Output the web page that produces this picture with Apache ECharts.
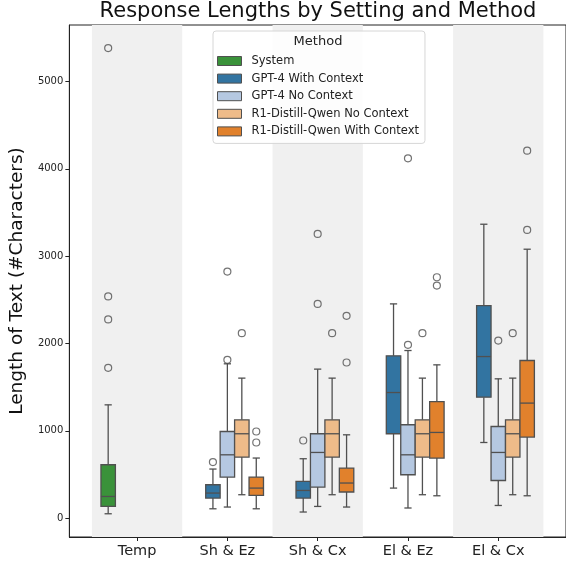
<!DOCTYPE html>
<html>
<head>
<meta charset="utf-8">
<script src="https://cdn.jsdelivr.net/npm/echarts@6/dist/echarts.min.js"></script>
<style>
  html, body { margin: 0; padding: 0; background: #fff; }
  #chart { width: 566px; height: 565px; }
</style>
</head>
<body>
<div id="chart"></div>
<script>
// settings on the x axis
const categories = ['Temp', 'Sh & Ez', 'Sh & Cx', 'El & Ez', 'El & Cx'];
const methods = ['System', 'GPT-4 With Context', 'GPT-4 No Context', 'R1-Distill-Qwen No Context', 'R1-Distill-Qwen With Context'];
const yTicks = [0, 1000, 2000, 3000, 4000, 5000];

// box stats per setting: [lower whisker, q1, median, q3, upper whisker]
const systemBoxes = [[50, 134, 248, 611, 1297], null, null, null, null];
const gpt4CtxBoxes = [null, [107, 230, 287, 382, 562], [70, 230, 317, 420, 680], [344, 966, 1438, 1858, 2453], [866, 1385, 1850, 2434, 3365]];
const gpt4NoCtxBoxes = [null, [127, 470, 725, 992, 1767], [134, 356, 752, 966, 1706], [116, 497, 725, 1069, 1919], [145, 431, 752, 1049, 1595]];
const r1NoCtxBoxes = [null, [268, 699, 966, 1126, 1603], [268, 699, 966, 1126, 1603], [268, 699, 966, 1126, 1603], [268, 699, 966, 1126, 1603]];
const r1CtxBoxes = [null, [107, 260, 344, 470, 688], [127, 299, 402, 573, 954], [256, 688, 981, 1335, 1755], [256, 928, 1317, 1805, 3079]];

// outliers: [setting index, value]
const systemOutliers = [[0, 1721], [0, 2275], [0, 2538], [0, 5382]];
const gpt4CtxOutliers = [[1, 642], [2, 889]];
const gpt4NoCtxOutliers = [[1, 1812], [1, 2823], [2, 2453], [2, 3254], [3, 1984], [3, 4120], [4, 2033]];
const r1NoCtxOutliers = [[1, 2118], [2, 2118], [3, 2118], [4, 2118]];
const r1CtxOutliers = [[1, 866], [1, 992], [2, 1782], [2, 2316], [3, 2663], [3, 2758], [4, 3300], [4, 4207]];

const boxesByMethod = [systemBoxes, gpt4CtxBoxes, gpt4NoCtxBoxes, r1NoCtxBoxes, r1CtxBoxes];
const outliersByMethod = [systemOutliers, gpt4CtxOutliers, gpt4NoCtxOutliers, r1NoCtxOutliers, r1CtxOutliers];
const colors = ['#3a923a', '#3274a1', '#b5c8e1', '#eebb89', '#e1812c'];
const lineColor = '#505050';
const font = 'DejaVu Sans';

// seaborn style dodge: 0.8 of each category split between the hue levels
const slotWidth = 0.8 / methods.length;
const slotOffset = k => (k - (methods.length - 1) / 2) * slotWidth;

function renderBox(params, api) {
  const x = api.value(0);
  const low = api.coord([x, api.value(1)]);
  const q1 = api.coord([x, api.value(2)]);
  const med = api.coord([x, api.value(3)]);
  const q3 = api.coord([x, api.value(4)]);
  const high = api.coord([x, api.value(5)]);
  const w = api.size([slotWidth, 0])[0];
  const cx = low[0];
  const half = w / 2, cap = w / 4;
  const line = { stroke: lineColor, lineWidth: 1.3 };
  return {
    type: 'group',
    children: [
      { type: 'line', shape: { x1: cx, y1: q3[1], x2: cx, y2: high[1] }, style: line },
      { type: 'line', shape: { x1: cx, y1: low[1], x2: cx, y2: q1[1] }, style: line },
      { type: 'line', shape: { x1: cx - cap, y1: high[1], x2: cx + cap, y2: high[1] }, style: line },
      { type: 'line', shape: { x1: cx - cap, y1: low[1], x2: cx + cap, y2: low[1] }, style: line },
      { type: 'rect', shape: { x: cx - half, y: q3[1], width: w, height: q1[1] - q3[1] },
        style: { fill: api.visual('color'), stroke: lineColor, lineWidth: 1.3 } },
      { type: 'line', shape: { x1: cx - half, y1: med[1], x2: cx + half, y2: med[1] }, style: line }
    ]
  };
}

const series = [];
// grey bands behind every other setting
series.push({
  type: 'line',
  name: 'bands',
  data: [],
  silent: true,
  markArea: {
    silent: true,
    itemStyle: { color: '#f0f0f0' },
    data: categories.map((c, i) => i).filter(i => i % 2 === 0)
      .map(i => [{ xAxis: i - 0.5 }, { xAxis: i + 0.5 }])
  }
});

methods.forEach((m, k) => {
  series.push({
    type: 'custom',
    name: m,
    renderItem: renderBox,
    itemStyle: { color: colors[k], borderColor: lineColor, borderWidth: 1 },
    encode: { x: 0, y: [1, 2, 3, 4, 5] },
    data: boxesByMethod[k]
      .map((b, i) => b ? [i + slotOffset(k)].concat(b) : null)
      .filter(d => d)
  });
  series.push({
    type: 'scatter',
    name: m + ' outliers',
    symbol: 'circle',
    symbolSize: 7,
    itemStyle: { color: 'rgba(255,255,255,0)', borderColor: lineColor, borderWidth: 1.2 },
    data: outliersByMethod[k].map(o => [o[0] + slotOffset(k), o[1]])
  });
});

const chart = echarts.init(document.getElementById('chart'));
chart.setOption({
  animation: false,
  textStyle: { fontFamily: font },
  grid: {
    left: 68, top: 25, width: 499, height: 512,
    show: true, borderColor: '#222', borderWidth: 1, backgroundColor: 'transparent'
  },
  xAxis: {
    type: 'value',
    min: -0.75,
    max: 4.75,
    splitLine: { show: false },
    axisLine: { show: true, onZero: false, lineStyle: { color: '#222' } },
    axisTick: { show: true, length: 4, lineStyle: { color: '#222' }, customValues: categories.map((c, i) => i) },
    axisLabel: {
      customValues: categories.map((c, i) => i),
      formatter: v => categories[Math.round(v)],
      fontSize: 14.5, color: '#222', margin: 7, fontFamily: font
    }
  },
  yAxis: {
    type: 'value',
    min: -216,
    max: 5646,
    name: 'Length of Text (#Characters)',
    nameLocation: 'middle',
    nameGap: 42,
    nameTextStyle: { fontSize: 18.5, color: '#111', fontFamily: font },
    splitLine: { show: false },
    axisLine: { show: true, onZero: false, lineStyle: { color: '#222' } },
    axisTick: { show: true, length: 4, lineStyle: { color: '#222' }, customValues: yTicks },
    axisLabel: { customValues: yTicks, formatter: v => String(v), fontSize: 10, color: '#222', margin: 6, fontFamily: font }
  },
  legend: {
    data: methods,
    orient: 'vertical',
    left: 213,
    top: 31,
    padding: [24, 6, 6, 4],
    backgroundColor: 'rgba(255,255,255,0.85)',
    borderColor: '#d6d6d6',
    borderWidth: 1,
    borderRadius: 3,
    icon: 'rect',
    itemWidth: 24,
    itemHeight: 9,
    itemGap: 5.6,
    itemStyle: { borderColor: lineColor, borderWidth: 1 },
    textStyle: { fontSize: 11.5, lineHeight: 12, color: '#222', fontFamily: font, padding: [0, 0, 0, 5] }
  },
  graphic: [
    {
      type: 'text', x: 318, y: 12,
      style: { text: 'Response Lengths by Setting and Method', fontSize: 21, fill: '#111', fontFamily: font, align: 'center', verticalAlign: 'middle' }
    },
    {
      type: 'text', x: 318, y: 42,
      style: { text: 'Method', fontSize: 13, fill: '#222', fontFamily: font, align: 'center', verticalAlign: 'middle' },
      z: 100
    }
  ],
  series: series
});
</script>
</body>
</html>
